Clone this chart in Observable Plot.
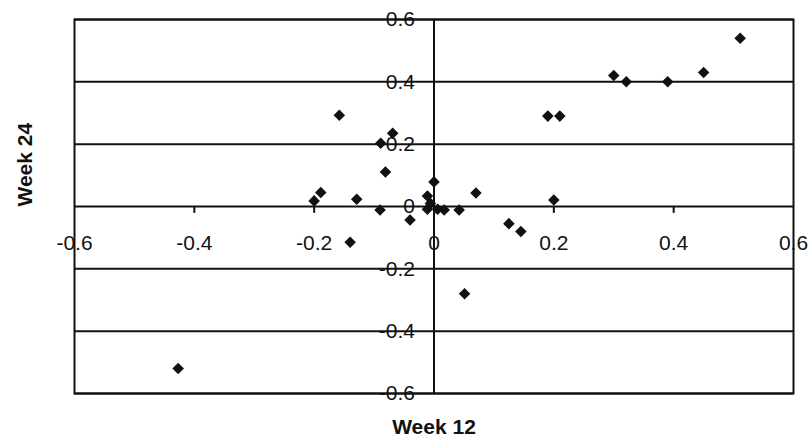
<!DOCTYPE html>
<html>
<head>
<meta charset="utf-8">
<script src="https://cdn.jsdelivr.net/npm/d3@7"></script>
<script src="https://cdn.jsdelivr.net/npm/@observablehq/plot@0.6"></script>
<style>
  html, body { margin: 0; padding: 0; background: #fff; }
</style>
</head>
<body>
<div id="chart"></div>
<script>
const week12 = [0.511, 0.45, 0.39, 0.321, 0.30, 0.19, 0.21, 0.20, 0.07, 0.0, -0.011, -0.006, -0.011, 0.006, 0.017, 0.042, 0.125, 0.145, 0.051, -0.158, -0.069, -0.089, -0.081, -0.189, -0.2, -0.129, -0.09, -0.04, -0.14, -0.427];
const week24 = [0.54, 0.43, 0.40, 0.40, 0.42, 0.29, 0.29, 0.021, 0.043, 0.079, 0.034, 0.01, -0.009, -0.009, -0.011, -0.011, -0.055, -0.08, -0.28, 0.293, 0.235, 0.203, 0.111, 0.045, 0.018, 0.023, -0.011, -0.043, -0.115, -0.52];
const xTicks = [-0.6, -0.4, -0.2, 0, 0.2, 0.4, 0.6];
const yTicks = [-0.6, -0.4, -0.2, 0, 0.2, 0.4, 0.6];
const xTickLabels = ["-0.6", "-0.4", "-0.2", "0", "0.2", "0.4", "0.6"];
const yTickLabels = ["-0.6", "-0.4", "-0.2", "0", "0.2", "0.4", "0.6"];
const xTitle = "Week 12";
const yTitle = "Week 24";

const points = week12.map((x, i) => ({x, y: week24[i]}));
const xt = xTicks.map((v, i) => ({v, label: xTickLabels[i]}));
const yt = yTicks.map((v, i) => ({v, label: yTickLabels[i]}));

const chart = Plot.plot({
  width: 809,
  height: 441,
  marginLeft: 74,
  marginRight: 16,
  marginTop: 19,
  marginBottom: 48,
  x: {domain: [-0.6, 0.6], axis: null},
  y: {domain: [-0.6, 0.6], axis: null},
  style: {fontFamily: '"Liberation Sans", Arial, sans-serif', fontSize: "22px", background: "#fff"},
  marks: [
    Plot.ruleY(yTicks, {stroke: "#111", strokeWidth: 2}),
    Plot.ruleX([0], {stroke: "#111", strokeWidth: 2}),
    Plot.ruleX(xTicks.filter(v => Math.abs(v) < 0.6 && v !== 0), {x: d => d, y1: 0, y2: -0.022, stroke: "#111", strokeWidth: 2}),
    Plot.frame({stroke: "#111", strokeWidth: 2}),
    Plot.text(yt, {x: 0, y: "v", text: "label", textAnchor: "end", dx: -19, fontSize: 21, fill: "#111"}),
    Plot.text(xt, {x: "v", y: 0, text: "label", dy: 37, fontSize: 21, fill: "#111"}),
    Plot.dot(points, {x: "x", y: "y", symbol: "diamond2", r: 5.2, fill: "#111", stroke: "none"}),
    Plot.text([xTitle], {frameAnchor: "bottom", dy: 40, fontSize: 21, fontWeight: "bold", fill: "#111"}),
    Plot.text([yTitle], {frameAnchor: "left", dx: -49, rotate: -90, fontSize: 21, fontWeight: "bold", fill: "#111"})
  ]
});
document.getElementById("chart").appendChild(chart);
</script>
</body>
</html>
